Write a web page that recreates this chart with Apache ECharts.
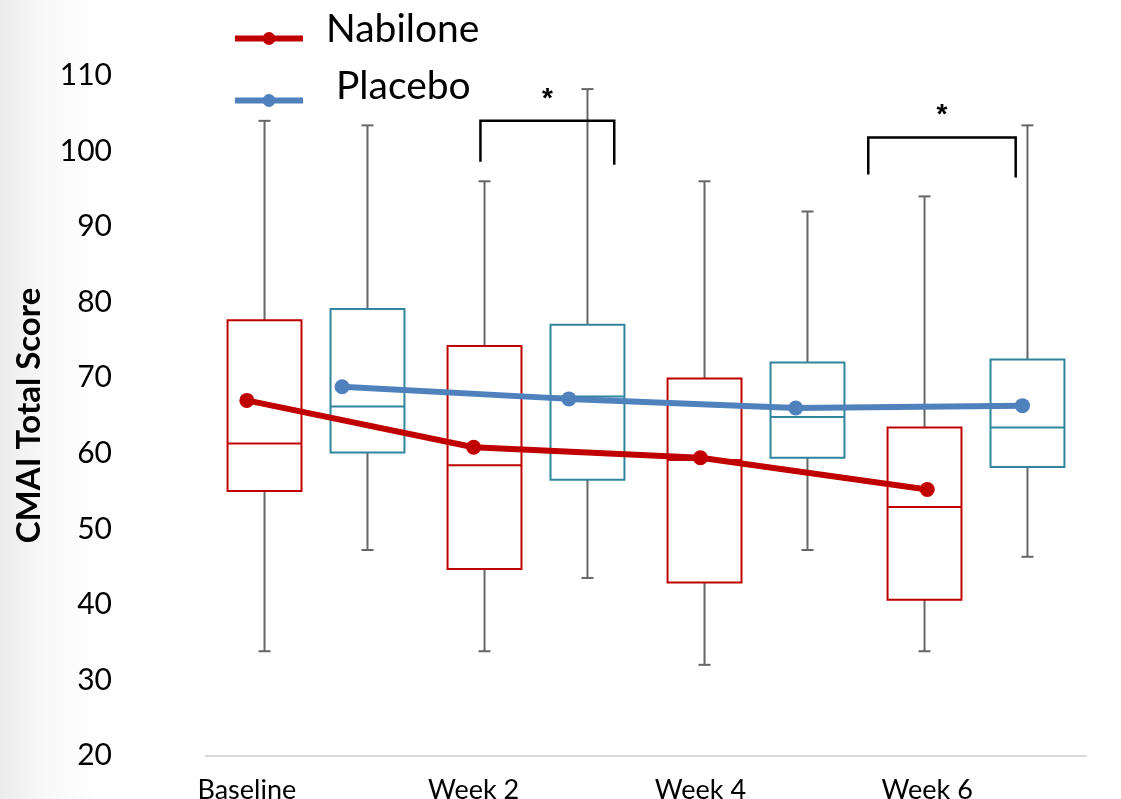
<!DOCTYPE html>
<html>
<head>
<meta charset="utf-8">
<script src="https://cdn.jsdelivr.net/npm/echarts@6/dist/echarts.min.js"></script>
<style>
  html, body { margin: 0; padding: 0; width: 1121px; height: 799px; overflow: hidden; background: #fff; }
  #chart { width: 1121px; height: 799px; }
</style>
</head>
<body>
<div id="chart"></div>
<script>
// Visits
const categories = ['Baseline', 'Week 2', 'Week 4', 'Week 6'];

// Box summaries per visit: [min, Q1, median, Q3, max]
const nabiloneBox = [
  [33.8, 55.0, 61.3, 77.6, 104.0],
  [33.8, 44.7, 58.4, 74.2, 96.0],
  [32.0, 42.9, 59.1, 69.9, 96.0],
  [33.8, 40.6, 52.9, 63.4, 94.0]
];
const placeboBox = [
  [47.2, 60.1, 66.2, 79.1, 103.4],
  [43.5, 56.5, 67.5, 77.0, 108.2],
  [47.2, 59.4, 64.8, 72.0, 92.0],
  [46.3, 58.2, 63.4, 72.4, 103.4]
];

// Mean CMAI total score per visit
const nabiloneMean = [67.0, 60.8, 59.4, 55.2];
const placeboMean = [68.8, 67.2, 66.0, 66.3];

// Y axis range and step
const yMin = 20;
const yMax = 110;
const yStep = 10;

// Significance brackets between the two arms
const brackets = [
  { cat: 'Week 2', from: 0.03, to: 0.62, top: 104.0, leftEnd: 98.6, rightEnd: 98.2, mark: '*' },
  { cat: 'Week 6', from: -0.26, to: 0.39, top: 101.8, leftEnd: 96.9, rightEnd: 96.5, mark: '*' }
];

const FONT = 'Lato, "Open Sans", "DejaVu Sans", sans-serif';
const NAB_COLOR = '#c00000';
const PLA_COLOR = '#4f81bd';
const NAB_BOX_COLOR = '#c00000';
const PLA_BOX_COLOR = '#31859c';
const WHISKER_COLOR = '#666666';

const BOX_SHIFT = 0.234;   // box centre offset from category centre (fraction of band)
const BOX_WIDTH = 0.336;   // box width (fraction of band)
const CAP_WIDTH = 12;      // whisker cap length in px
const PLACEBO_SHIFT = 0.42; // placebo mean markers sit to the right of nabilone ones

function boxRenderer(side, color) {
  return function (params, api) {
    const i = api.value(0);
    const band = api.size([1, 0])[0];
    const cx = api.coord([i, yMin])[0] + side * BOX_SHIFT * band;
    const hw = BOX_WIDTH * band / 2;
    const py = k => api.coord([i, api.value(k)])[1];
    const yLo = py(1), yQ1 = py(2), yMed = py(3), yQ3 = py(4), yHi = py(5);
    const whisk = { stroke: WHISKER_COLOR, lineWidth: 2 };
    const edge = { stroke: color, lineWidth: 2, fill: null };
    return {
      type: 'group',
      children: [
        { type: 'line', shape: { x1: cx, y1: yHi, x2: cx, y2: yQ3 }, style: whisk },
        { type: 'line', shape: { x1: cx, y1: yQ1, x2: cx, y2: yLo }, style: whisk },
        { type: 'line', shape: { x1: cx - CAP_WIDTH / 2, y1: yHi, x2: cx + CAP_WIDTH / 2, y2: yHi }, style: whisk },
        { type: 'line', shape: { x1: cx - CAP_WIDTH / 2, y1: yLo, x2: cx + CAP_WIDTH / 2, y2: yLo }, style: whisk },
        { type: 'rect', shape: { x: cx - hw, y: yQ3, width: 2 * hw, height: yQ1 - yQ3 }, style: edge },
        { type: 'line', shape: { x1: cx - hw, y1: yMed, x2: cx + hw, y2: yMed }, style: { stroke: color, lineWidth: 2 } }
      ]
    };
  };
}

function bracketRenderer(params, api) {
  const x1 = api.coord([api.value(0), api.value(2)])[0];
  const x2 = api.coord([api.value(1), api.value(2)])[0];
  const yTop = api.coord([api.value(0), api.value(2)])[1];
  const yL = api.coord([api.value(0), api.value(3)])[1];
  const yR = api.coord([api.value(0), api.value(4)])[1];
  return {
    type: 'group',
    children: [
      {
        type: 'polyline',
        shape: { points: [[x1, yL], [x1, yTop], [x2, yTop], [x2, yR]] },
        style: { stroke: '#000', lineWidth: 2.5, fill: null }
      },
      {
        type: 'text',
        style: {
          x: (x1 + x2) / 2, y: yTop - 22, text: brackets[params.dataIndex].mark,
          align: 'center', verticalAlign: 'middle',
          font: 'bold 28px "Liberation Sans", Arial, sans-serif', fill: '#000'
        }
      }
    ]
  };
}

function legendBlock(name, top, padBottom, padLeft) {
  return {
    data: [name], orient: 'vertical', left: 232, top: top, padding: 0,
    itemWidth: 68, itemHeight: 16,
    lineStyle: { width: 6 },
    formatter: '{t|{name}}',
    textStyle: {
      rich: {
        t: { fontFamily: FONT, fontSize: 39, color: '#000', lineHeight: 44, padding: [0, 0, padBottom, padLeft] }
      }
    }
  };
}

const chart = echarts.init(document.getElementById('chart'));

chart.setOption({
  backgroundColor: {
    type: 'linear', x: 0, y: 0, x2: 1, y2: 0,
    colorStops: [
      { offset: 0, color: '#ececec' },
      { offset: 0.04, color: '#f8f8f8' },
      { offset: 0.09, color: '#ffffff' },
      { offset: 1, color: '#ffffff' }
    ]
  },
  animation: false,
  grid: { left: 206, right: 35, top: 75.5, bottom: 43.5, outerBoundsMode: 'none' },
  legend: [
    legendBlock('Nabilone', 10, 18, 18),
    legendBlock('Placebo', 67, 28, 28)
  ],
  xAxis: [
    {
      type: 'category', data: categories, position: 'bottom',
      axisLine: { lineStyle: { color: '#d9d9d9', width: 2 } },
      axisTick: { show: false }, axisLabel: { show: false }, splitLine: { show: false }
    },
    {
      type: 'value', position: 'bottom', min: -0.18, max: 3.7,
      axisLine: { show: false }, axisTick: { show: false }, splitLine: { show: false },
      axisLabel: {
        customValues: [0, 1, 2, 3],
        formatter: v => categories[Math.round(v)],
        fontFamily: FONT, fontSize: 27, color: '#000', margin: 21
      }
    }
  ],
  yAxis: {
    type: 'value', min: yMin, max: yMax, interval: yStep,
    axisLine: { show: false, onZero: false }, axisTick: { show: false }, splitLine: { show: false },
    axisLabel: { fontFamily: FONT, fontSize: 30, color: '#000', margin: 94 },
    name: 'CMAI Total Score', nameLocation: 'middle', nameRotate: 90, nameGap: 160,
    nameTextStyle: { fontFamily: FONT, fontSize: 33, fontWeight: 'bold', color: '#000' }
  },
  series: [
    {
      type: 'custom', xAxisIndex: 0, z: 2,
      renderItem: boxRenderer(-1, NAB_BOX_COLOR),
      encode: { x: 0, y: [1, 2, 3, 4, 5] },
      data: nabiloneBox.map((b, i) => [i, ...b])
    },
    {
      type: 'custom', xAxisIndex: 0, z: 2,
      renderItem: boxRenderer(1, PLA_BOX_COLOR),
      encode: { x: 0, y: [1, 2, 3, 4, 5] },
      data: placeboBox.map((b, i) => [i, ...b])
    },
    {
      name: 'Nabilone', type: 'line', xAxisIndex: 1, z: 5,
      symbol: 'circle', symbolSize: 15,
      lineStyle: { width: 6, color: NAB_COLOR }, itemStyle: { color: NAB_COLOR },
      data: nabiloneMean.map((v, i) => [i, v])
    },
    {
      name: 'Placebo', type: 'line', xAxisIndex: 1, z: 5,
      symbol: 'circle', symbolSize: 15,
      lineStyle: { width: 6, color: PLA_COLOR }, itemStyle: { color: PLA_COLOR },
      data: placeboMean.map((v, i) => [i + PLACEBO_SHIFT, v])
    },
    {
      type: 'custom', xAxisIndex: 1, z: 6,
      renderItem: bracketRenderer,
      encode: { x: [0, 1], y: [2, 3, 4] },
      data: brackets.map(b => {
        const c = categories.indexOf(b.cat);
        return [c + b.from, c + b.to, b.top, b.leftEnd, b.rightEnd];
      })
    }
  ]
});
</script>
</body>
</html>
